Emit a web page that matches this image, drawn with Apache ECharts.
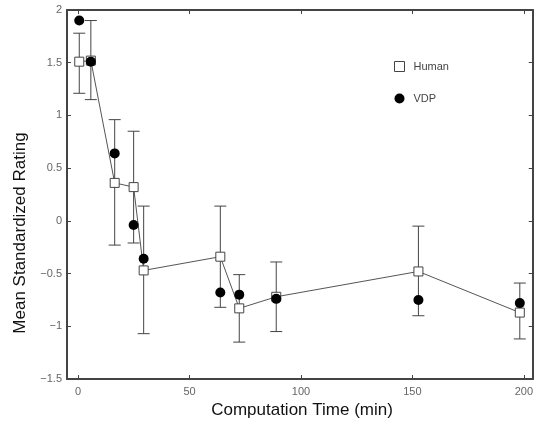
<!DOCTYPE html>
<html>
<head>
<meta charset="utf-8">
<script src="https://cdn.jsdelivr.net/npm/echarts@6/dist/echarts.min.js"></script>
<style>html,body{margin:0;padding:0;background:#fff}#c{width:536px;height:424px}</style>
</head>
<body>
<div id="c"></div>
<script>
// Data
var times = [0.5, 5.7, 16.4, 24.9, 29.4, 63.8, 72.3, 88.9, 152.7, 198.2];
var humanMean = [1.51, 1.52, 0.36, 0.32, -0.47, -0.34, -0.83, -0.72, -0.48, -0.87];
var humanLow  = [1.21, 1.15, -0.23, -0.21, -1.07, -0.82, -1.15, -1.05, -0.90, -1.12];
var humanHigh = [1.78, 1.90, 0.96, 0.85, 0.14, 0.14, -0.51, -0.39, -0.05, -0.59];
var vdp = [1.90, 1.51, 0.64, -0.04, -0.36, -0.68, -0.70, -0.74, -0.75, -0.78];
var xTicks = [0, 50, 100, 150, 200];
var yTicks = [-1.5, -1, -0.5, 0, 0.5, 1, 1.5, 2];

var humanData = times.map(function (t, i) { return [t, humanMean[i]]; });
var vdpData = times.map(function (t, i) { return [t, vdp[i]]; });
var errData = times.map(function (t, i) { return [t, humanLow[i], humanHigh[i]]; });

var axisCol = '#444';
var labelStyle = { fontFamily: 'Liberation Sans, Arial, sans-serif', fontSize: 11, color: '#666' };
function fmt(v) { return String(v).replace('-', '\u2212'); }

var chart = echarts.init(document.getElementById('c'), null, { renderer: 'canvas' });
chart.setOption({
  animation: false,
  backgroundColor: '#fff',
  grid: { left: 67, right: 1, top: 10, bottom: 45, containLabel: false },
  xAxis: [{
    type: 'value', min: -5, max: 204, position: 'bottom',
    axisLine: { show: true, onZero: false, lineStyle: { color: axisCol, width: 2 } },
    axisTick: { show: true, inside: true, length: 4, customValues: xTicks, lineStyle: { color: axisCol } },
    axisLabel: { show: true, customValues: xTicks, margin: 7, formatter: fmt, ...labelStyle },
    splitLine: { show: false }
  }, {
    type: 'value', min: -5, max: 204, position: 'top',
    axisLine: { show: true, onZero: false, lineStyle: { color: axisCol, width: 2 } },
    axisTick: { show: true, inside: true, length: 4, customValues: xTicks, lineStyle: { color: axisCol } },
    axisLabel: { show: false },
    splitLine: { show: false }
  }],
  yAxis: [{
    type: 'value', min: -1.5, max: 2, interval: 0.5, position: 'left',
    axisLine: { show: true, onZero: false, lineStyle: { color: axisCol, width: 2 } },
    axisTick: { show: true, inside: true, length: 4, lineStyle: { color: axisCol } },
    axisLabel: { show: true, margin: 5, formatter: fmt, ...labelStyle },
    splitLine: { show: false }
  }, {
    type: 'value', min: -1.5, max: 2, interval: 0.5, position: 'right',
    axisLine: { show: true, onZero: false, lineStyle: { color: axisCol, width: 2 } },
    axisTick: { show: true, inside: true, length: 4, lineStyle: { color: axisCol } },
    axisLabel: { show: false },
    splitLine: { show: false }
  }],
  legend: {
    orient: 'vertical', left: 389, top: 56, itemGap: 21, itemWidth: 10, itemHeight: 10,
    textStyle: { fontFamily: 'Liberation Sans, Arial, sans-serif', fontSize: 11, color: '#444', padding: [0, 0, 0, 4] },
    data: [
      { name: 'Human', icon: 'rect', itemStyle: { color: '#fff', borderColor: '#444', borderWidth: 1 } },
      { name: 'VDP', icon: 'circle', itemStyle: { color: '#000', borderWidth: 0, opacity: 1 } }
    ]
  },
  graphic: [
    {
      type: 'text', x: 20, y: 233, rotation: Math.PI / 2,
      style: { text: 'Mean Standardized Rating', fontFamily: 'Liberation Sans, Arial, sans-serif', fontSize: 17, fill: '#111', align: 'center', verticalAlign: 'middle' }
    },
    {
      type: 'text', x: 302, y: 410,
      style: { text: 'Computation Time (min)', fontFamily: 'Liberation Sans, Arial, sans-serif', fontSize: 17, fill: '#111', align: 'center', verticalAlign: 'middle' }
    }
  ],
  series: [
    {
      name: 'errors', type: 'custom', z: 1, silent: true,
      data: errData,
      renderItem: function (params, api) {
        var x = api.value(0);
        var lo = api.coord([x, api.value(1)]);
        var hi = api.coord([x, api.value(2)]);
        var hw = 6;
        var st = { stroke: '#444', lineWidth: 1 };
        return {
          type: 'group',
          children: [
            { type: 'line', shape: { x1: lo[0], y1: lo[1], x2: hi[0], y2: hi[1] }, style: st },
            { type: 'line', shape: { x1: lo[0] - hw, y1: lo[1], x2: lo[0] + hw, y2: lo[1] }, style: st },
            { type: 'line', shape: { x1: hi[0] - hw, y1: hi[1], x2: hi[0] + hw, y2: hi[1] }, style: st }
          ]
        };
      }
    },
    {
      name: 'Human', type: 'line', z: 2, data: humanData,
      symbol: 'rect', symbolSize: 9, showAllSymbol: true,
      lineStyle: { color: '#555', width: 1 },
      itemStyle: { color: '#fff', borderColor: '#444', borderWidth: 1 }
    },
    {
      name: 'VDP', type: 'scatter', z: 3, data: vdpData,
      symbol: 'circle', symbolSize: 10,
      itemStyle: { color: '#000', opacity: 1 }
    }
  ]
});
</script>
</body>
</html>
